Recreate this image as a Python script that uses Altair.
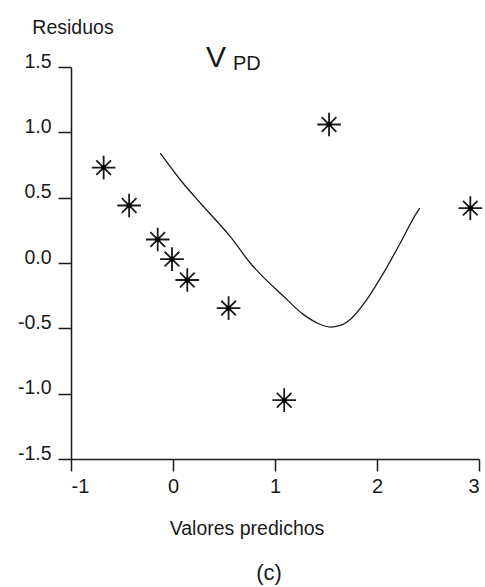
import altair as alt
import pandas as pd

# Scatter points (residuals vs predicted values)
pred_x = [-0.68, -0.43, -0.15, -0.01, 0.14, 0.545, 1.09, 1.53, 2.915]
resid_y = [0.73, 0.44, 0.18, 0.03, -0.13, -0.345, -1.05, 1.06, 0.42]

# Smooth curve
curve_x = [-0.125, 0.073, 0.27, 0.564, 0.757, 1.084, 1.28, 1.41, 1.54, 1.64,
           1.74, 1.90, 2.065, 2.23, 2.39, 2.42]
curve_y = [0.84, 0.635, 0.457, 0.2, 0.0, -0.255, -0.395, -0.458, -0.49, -0.478,
           -0.43, -0.28, -0.075, 0.155, 0.385, 0.42]

x_ticks = [-1, 0, 1, 2, 3]
y_ticks = [-1.5, -1.0, -0.5, 0.0, 0.5, 1.0, 1.5]

FONT = "Liberation Sans, Arial, sans-serif"
INK = "#1a1a1a"

pts = pd.DataFrame({"x": pred_x, "y": resid_y})
crv = pd.DataFrame({"x": curve_x, "y": curve_y})

xscale = alt.Scale(domain=[-1, 3], nice=False, zero=False)
yscale = alt.Scale(domain=[-1.5, 1.5], nice=False, zero=False)

xaxis = alt.Axis(
    values=x_ticks, grid=False, domainColor=INK, domainWidth=1.5,
    tickColor=INK, tickWidth=1.5, tickSize=12,
    labelFont=FONT, labelFontSize=20, labelColor=INK, labelPadding=5,
    labelBaseline="top", labelOverlap=False,
    labelExpr="datum.value < 0 ? '-' + format(-datum.value, 'd') : format(datum.value, 'd')",
    title="Valores predichos", titleFont=FONT, titleFontSize=19.5,
    titleFontWeight="normal", titleColor=INK, titleX=175.5, titleY=75,
    titleAlign="center", titleBaseline="alphabetic",
)
yaxis = alt.Axis(
    values=y_ticks, grid=False, domainColor=INK, domainWidth=1.5,
    tickColor=INK, tickWidth=1.5, tickSize=13,
    labelFont=FONT, labelFontSize=19.5, labelColor=INK, labelPadding=7,
    labelBaseline="alphabetic", labelAlign="right", labelOverlap=False,
    labelExpr="datum.value < 0 ? '-' + format(-datum.value, '.1f') : format(datum.value, '.1f')",
    title="Residuos", titleFont=FONT, titleFontSize=19.5,
    titleFontWeight="normal", titleColor=INK, titleAngle=0, titleX=1.5,
    titleY=-34, titleAlign="center", titleBaseline="alphabetic",
)

star_path = ("M-1,0L1,0M0,-1L0,1"
             "M-0.62,-0.62L0.62,0.62M-0.62,0.62L0.62,-0.62")

stars = alt.Chart(pts).mark_point(
    shape=star_path, size=560, filled=False, stroke=INK, strokeWidth=1.8,
    opacity=1,
).encode(
    x=alt.X("x:Q", scale=xscale, axis=xaxis),
    y=alt.Y("y:Q", scale=yscale, axis=yaxis),
)
dots = alt.Chart(pts).mark_circle(size=26, color="#000", opacity=1).encode(
    x=alt.X("x:Q", scale=xscale),
    y=alt.Y("y:Q", scale=yscale),
)
line = alt.Chart(crv).mark_line(color=INK, strokeWidth=1.3, interpolate="monotone").encode(
    x=alt.X("x:Q", scale=xscale),
    y=alt.Y("y:Q", scale=yscale),
    order="x:Q",
)

one = pd.DataFrame({"k": [0]})
v_txt = alt.Chart(one).mark_text(
    text="V", font=FONT, fontSize=30, color=INK, align="center", baseline="alphabetic"
).encode(x=alt.value(145), y=alt.value(0))
pd_txt = alt.Chart(one).mark_text(
    text="PD", font=FONT, fontSize=20, color=INK, align="left", baseline="alphabetic"
).encode(x=alt.value(162), y=alt.value(3))
c_txt = alt.Chart(one).mark_text(
    text="(c)", font=FONT, fontSize=22, color=INK, align="center", baseline="alphabetic"
).encode(x=alt.value(198), y=alt.value(513))

chart = alt.layer(line, stars, dots, v_txt, pd_txt, c_txt).properties(
    width=408, height=392,
    autosize=alt.AutoSizeParams(type="none"),
    padding={"left": 71, "top": 67, "right": 6, "bottom": 128},
    background="white",
).configure_view(stroke=None)

chart.save("out.html", embed_options={"renderer": "svg", "actions": False})
